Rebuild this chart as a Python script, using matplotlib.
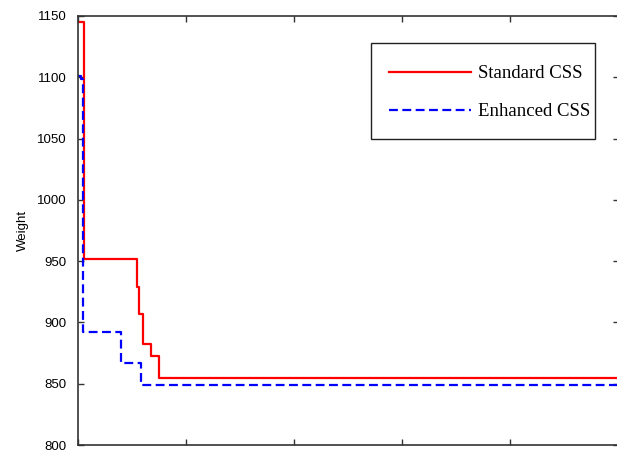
import matplotlib
matplotlib.use("Agg")
import matplotlib.pyplot as plt
from matplotlib.patches import Rectangle

# Data (iteration, weight) change points, drawn as steps
std_iter = [0, 6, 55, 56.5, 60, 67.5, 74.5, 500]
std_weight = [1145, 952, 929, 907, 882, 873, 855, 855]
enh_iter = [0, 2.5, 5, 39.5, 58, 500]
enh_weight = [1101, 1099, 892, 867, 849, 849]

yticks = [800, 850, 900, 950, 1000, 1050, 1100, 1150]
xticks = [0, 100, 200, 300, 400, 500]

W, H = 617, 451
fig = plt.figure(figsize=(W/100, H/100), dpi=100)
ax = fig.add_axes([78/W, 6/H, (618.5-78)/W, (445-16)/H])

ax.plot(std_iter, std_weight, drawstyle="steps-post", color="#ff0000",
        lw=1.6, label="Standard CSS")
ax.plot(enh_iter, enh_weight, drawstyle="steps-post", color="#0000ff",
        lw=1.6, ls=(0, (4, 2)), label="Enhanced CSS")

ax.set_xlim(0, 500)
ax.set_ylim(800, 1150)
ax.set_yticks(yticks)
ax.set_xticks(xticks)
ax.set_xticklabels([])
ax.tick_params(direction="in", length=4.3, width=1, color="#333333",
               top=True, right=True, labelsize=9.5, pad=8)
for lab in ax.get_yticklabels():
    lab.set_fontfamily("Liberation Sans")
for s in ax.spines.values():
    s.set_color("#333333")
    s.set_linewidth(1.2)
ax.set_ylabel("Weight", fontsize=9.5, family="Liberation Sans", labelpad=6)

# legend frame drawn manually (box in figure pixels)
bx0, by0, bx1, by1 = 370.7, 42.7, 595, 139.3
frame = Rectangle((bx0/W, 1-by1/H), (bx1-bx0)/W, (by1-by0)/H,
                  transform=fig.transFigure, facecolor="white",
                  edgecolor="#222222", lw=1.0, zorder=4, clip_on=False)
ax.add_artist(frame)
leg = ax.legend(loc="upper left", bbox_to_anchor=(389/W, 1-65/H),
                bbox_transform=fig.transFigure, borderaxespad=0,
                prop={"family": "Liberation Serif", "size": 13.5},
                frameon=False, borderpad=0, labelspacing=1.12,
                handlelength=4.35, handletextpad=0.37)
leg.set_zorder(6)

fig.savefig("out.png", dpi=100)
